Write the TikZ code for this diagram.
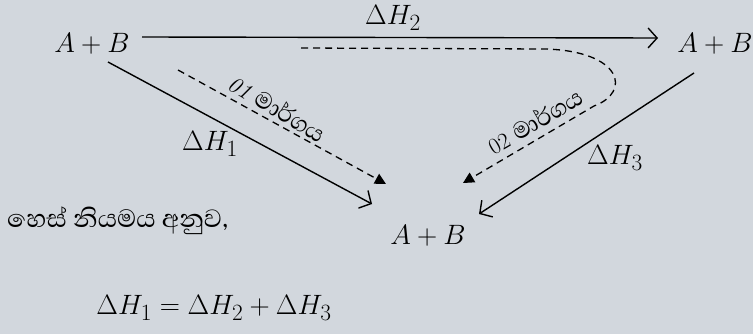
\documentclass[tikz,border=0pt]{standalone}
\usepackage{fontspec}
\newfontfamily\sinhala[Script=Sinhala,Scale=1.6]{Abhaya Libre}
\newfontfamily\sinhalaS[Script=Sinhala,Scale=1.3]{Abhaya Libre}
\usetikzlibrary{arrows.meta}
\definecolor{bg}{RGB}{210,215,221}
\newcommand\mth[1]{\scalebox{1.125}{$#1$}}
\begin{document}
\begin{tikzpicture}[x=1pt,y=-1pt,
 eq/.style={font=\fontsize{24.88}{30}\selectfont, inner sep=0pt},
 lbl/.style={font=\fontsize{23}{26}\selectfont, inner sep=0pt},
 rxn/.style={line width=1.4pt, -{Straight Barb[length=9pt,width=20pt,line width=1.4pt]}},
 route/.style={line width=1.3pt, dash pattern=on 7pt off 5pt, -{Triangle[length=11pt,width=11pt]}}]
\fill[bg] (0,0) rectangle (753,334);
\useasboundingbox (0,0) rectangle (753,334);
\node[eq] (L) at (92,44) {\mth{A+B}};
\node[eq] (R) at (715,44) {\mth{A+B}};
\node[eq] (D) at (428,236) {\mth{A+B}};
\draw[rxn] ([shift={(50pt,7pt)}]L.center) -- ([shift={(-57pt,6pt)}]R.center);
\node[eq] (h2) at (393,18) {\mth{\Delta H_2}};
\draw[rxn] ([shift={(16pt,-18pt)}]L.center) -- ([shift={(-56pt,32pt)}]D.center);
\draw[rxn] ([shift={(-21pt,-29pt)}]R.center) -- ([shift={(51pt,22pt)}]D.center);
\node[eq] (h1) at (210,144) {\mth{\Delta H_1}};
\node[eq] (h3) at (615,158) {\mth{\Delta H_3}};
\draw[route] ([shift={(86pt,-26pt)}]L.center) -- ([shift={(-42pt,52pt)}]D.center);
\draw[route] ([shift={(209pt,-4pt)}]L.center) -- (545,49) .. controls (622,51) and (632,92) .. (594,106) -- ([shift={(35pt,53pt)}]D.center);
\node[lbl, rotate=-31] (p1) at (278,108) {\textit{01} {\sinhalaS මාර්ගය}};
\node[lbl, rotate=30] (p2) at (535,121) {02 {\sinhalaS මාර්ගය}};
\node[eq, anchor=west, font=\fontsize{20}{26}\selectfont\sinhala] (hess) at (7,221) {හෙස් නියමය අනුව,};
\node[eq] (law) at (214,308) {\mth{\Delta H_1=\Delta H_2+\Delta H_3}};
\end{tikzpicture}
\end{document}
